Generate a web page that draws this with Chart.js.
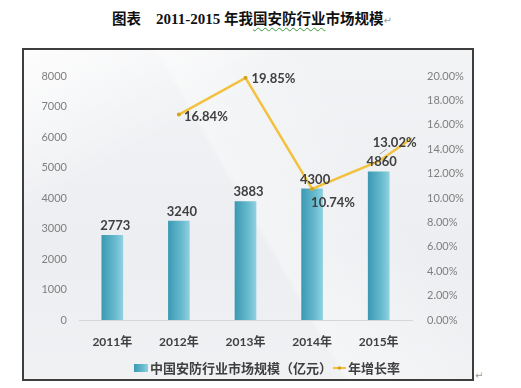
<!DOCTYPE html>
<html>
<head>
<meta charset="utf-8">
<script src="https://cdn.jsdelivr.net/npm/chart.js@4"></script>
<style>
  body { margin: 0; width: 521px; height: 388px; background: #fff; position: relative; overflow: hidden; }
  #title {
    position: absolute; left: 112px; top: 7px; white-space: nowrap;
    font-family: "Liberation Serif", "Noto Sans CJK SC"; font-weight: bold; font-size: 15px; color: #111;
  }
  #title .cn { font-family: "Noto Sans CJK SC"; font-weight: 700; font-size: 14.5px; }
  #title .wavy { text-decoration: underline wavy #3a9a3a; text-decoration-thickness: 1px; text-underline-offset: 3px; }
  .mark { color: #9a9a9a; font-family: "DejaVu Sans"; font-size: 10px; font-weight: normal; }
  #frame {
    position: absolute; left: 22px; top: 48px; width: 452px; height: 333px; box-sizing: border-box;
    border: 2px solid #3e3e3e;
    background:
      linear-gradient(150deg, rgba(255,255,255,0.85) 0%, rgba(255,255,255,0) 28%),
      linear-gradient(60deg, rgba(255,255,255,0) 50%, rgba(255,255,255,0.35) 51%, rgba(255,255,255,0) 75%),
      linear-gradient(180deg, #f2f3f5 0%, #eceef1 60%, #f0f1f3 100%);
  }
  #endmark { position: absolute; left: 475px; top: 370px; }
</style>
</head>
<body>
<div id="title"><span class="cn">图表</span>&nbsp;&nbsp;&nbsp; 2011-2015 <span class="cn">年我<span class="wavy">国安防行业</span>市场规模</span><span class="mark">↵</span></div>
<div id="frame"><canvas id="grafica" width="448" height="329"></canvas></div>
<span id="endmark" class="mark">↵</span>
<script>
const anios = ["2011年", "2012年", "2013年", "2014年", "2015年"]
const mercado = [2773, 3240, 3883, 4300, 4860]
// posiciones del eje para la linea (la linea sigue hasta el borde derecho)
const crecimientoX = [1, 2, 3, 4, 4.5]
const crecimiento = [16.84, 19.85, 10.74, 13.02, 14.9]
const etiquetasCrecimiento = ["16.84%", "19.85%", "10.74%", "13.02%", ""]
const ticksIzq = [0, 1000, 2000, 3000, 4000, 5000, 6000, 7000, 8000]
const ticksDer = [0, 2, 4, 6, 8, 10, 12, 14, 16, 18, 20]

const fuente = '"Lato", "Noto Sans CJK SC", sans-serif'
const fuenteCJK = '"Noto Sans CJK SC", sans-serif'

function degradado(ctx, x0, x1) {
    const g = ctx.createLinearGradient(x0, 0, x1, 0)
    g.addColorStop(0, "#3b9ab3")
    g.addColorStop(0.65, "#69bbcf")
    g.addColorStop(1, "#8fd1e0")
    return g
}

const etiquetas = {
    id: "etiquetas",
    afterDatasetsDraw(chart) {
        const ctx = chart.ctx
        ctx.save()
        ctx.fillStyle = "#404040"
        ctx.font = "bold 13px " + fuente
        ctx.textAlign = "center"
        ctx.textBaseline = "bottom"
        chart.getDatasetMeta(0).data.forEach((el, i) => {
            ctx.fillText(mercado[i], el.x + 3, el.y - 3)
        })
        const offs = [[5, 2], [6, 1], [-1, 14], [-6, -18]]
        ctx.textAlign = "left"
        ctx.textBaseline = "middle"
        chart.getDatasetMeta(1).data.forEach((el, i) => {
            if (!etiquetasCrecimiento[i]) return
            ctx.fillText(etiquetasCrecimiento[i], el.x + offs[i][0], el.y + offs[i][1])
        })
        // linea guia de 13.02%
        const p = chart.getDatasetMeta(1).data[3]
        ctx.strokeStyle = "#a8a8a8"
        ctx.lineWidth = 1
        ctx.beginPath()
        ctx.moveTo(p.x + 1, p.y - 7)
        ctx.lineTo(p.x + 8, p.y - 12)
        ctx.stroke()
        ctx.restore()
    }
}

const leyenda = {
    id: "leyenda",
    afterDraw(chart) {
        const ctx = chart.ctx
        const y = 318
        ctx.save()
        ctx.fillStyle = degradado(ctx, 110, 124)
        ctx.fillRect(110, y - 4, 14, 8)
        ctx.font = "bold 13px " + fuenteCJK
        ctx.fillStyle = "#404040"
        ctx.textBaseline = "middle"
        ctx.fillText(chart.data.datasets[0].label, 126, y)
        ctx.strokeStyle = "#f2c13e"
        ctx.lineWidth = 2
        ctx.beginPath()
        ctx.moveTo(309, y)
        ctx.lineTo(322, y)
        ctx.stroke()
        ctx.fillStyle = "#d9a21f"
        ctx.beginPath()
        ctx.arc(315.5, y, 1.8, 0, Math.PI * 2)
        ctx.fill()
        ctx.fillStyle = "#404040"
        ctx.fillText(chart.data.datasets[1].label, 324, y)
        ctx.restore()
    }
}

const chart = new Chart(document.getElementById("grafica").getContext("2d"), {
    data: {
        labels: anios,
        datasets: [{
            type: "bar",
            label: "中国安防行业市场规模（亿元）",
            data: mercado,
            xAxisID: "x",
            yAxisID: "y",
            barThickness: 21,
            grouped: false,
            backgroundColor: (c) => {
                const sx = c.chart.scales.x
                if (!sx || sx.width === undefined) return "#5fb3c8"
                const cx = sx.getPixelForValue(c.dataIndex)
                return degradado(c.chart.ctx, cx - 10.5, cx + 10.5)
            },
            order: 2
        }, {
            type: "line",
            label: "年增长率",
            data: crecimientoX.map((x, i) => ({ x: x, y: crecimiento[i] })),
            xAxisID: "xl",
            yAxisID: "y1",
            borderColor: "#f2c13e",
            borderWidth: 2.5,
            pointRadius: (c) => c.dataIndex < 3 ? 2 : 0,
            pointBackgroundColor: "#d9a21f",
            pointBorderWidth: 0,
            tension: 0,
            order: 1
        }]
    },
    options: {
        responsive: false,
        animation: false,
        layout: { padding: { top: 26, bottom: 23, left: 0, right: 0 } },
        plugins: { legend: { display: false }, tooltip: { enabled: false } },
        scales: {
            x: {
                type: "category",
                offset: true,
                grid: { display: false, drawTicks: false },
                border: { color: "#d6d6d6" },
                ticks: { color: "#404040", font: { family: fuente, size: 12, weight: "bold" }, padding: 15 },
                afterFit: (s) => { s.height = 36 }
            },
            xl: {
                type: "linear",
                display: false,
                min: -0.5,
                max: 4.5
            },
            y: {
                position: "left",
                min: 0,
                max: 8000,
                grid: { display: false, drawTicks: false },
                border: { display: false },
                afterBuildTicks: (s) => { s.ticks = ticksIzq.map(v => ({ value: v })) },
                ticks: { color: "#7f7f7f", font: { family: fuente, size: 11 }, padding: 12, callback: (v) => String(v) },
                afterFit: (s) => { s.width = 55 }
            },
            y1: {
                position: "right",
                min: 0,
                max: 20,
                grid: { display: false, drawTicks: false },
                border: { display: false },
                afterBuildTicks: (s) => { s.ticks = ticksDer.map(v => ({ value: v })) },
                ticks: {
                    color: "#7f7f7f",
                    font: { family: fuente, size: 11 },
                    padding: 15,
                    callback: (v) => v.toFixed(2) + "%"
                },
                afterFit: (s) => { s.width = 60 }
            }
        }
    },
    plugins: [etiquetas, leyenda]
})
</script>
</body>
</html>
